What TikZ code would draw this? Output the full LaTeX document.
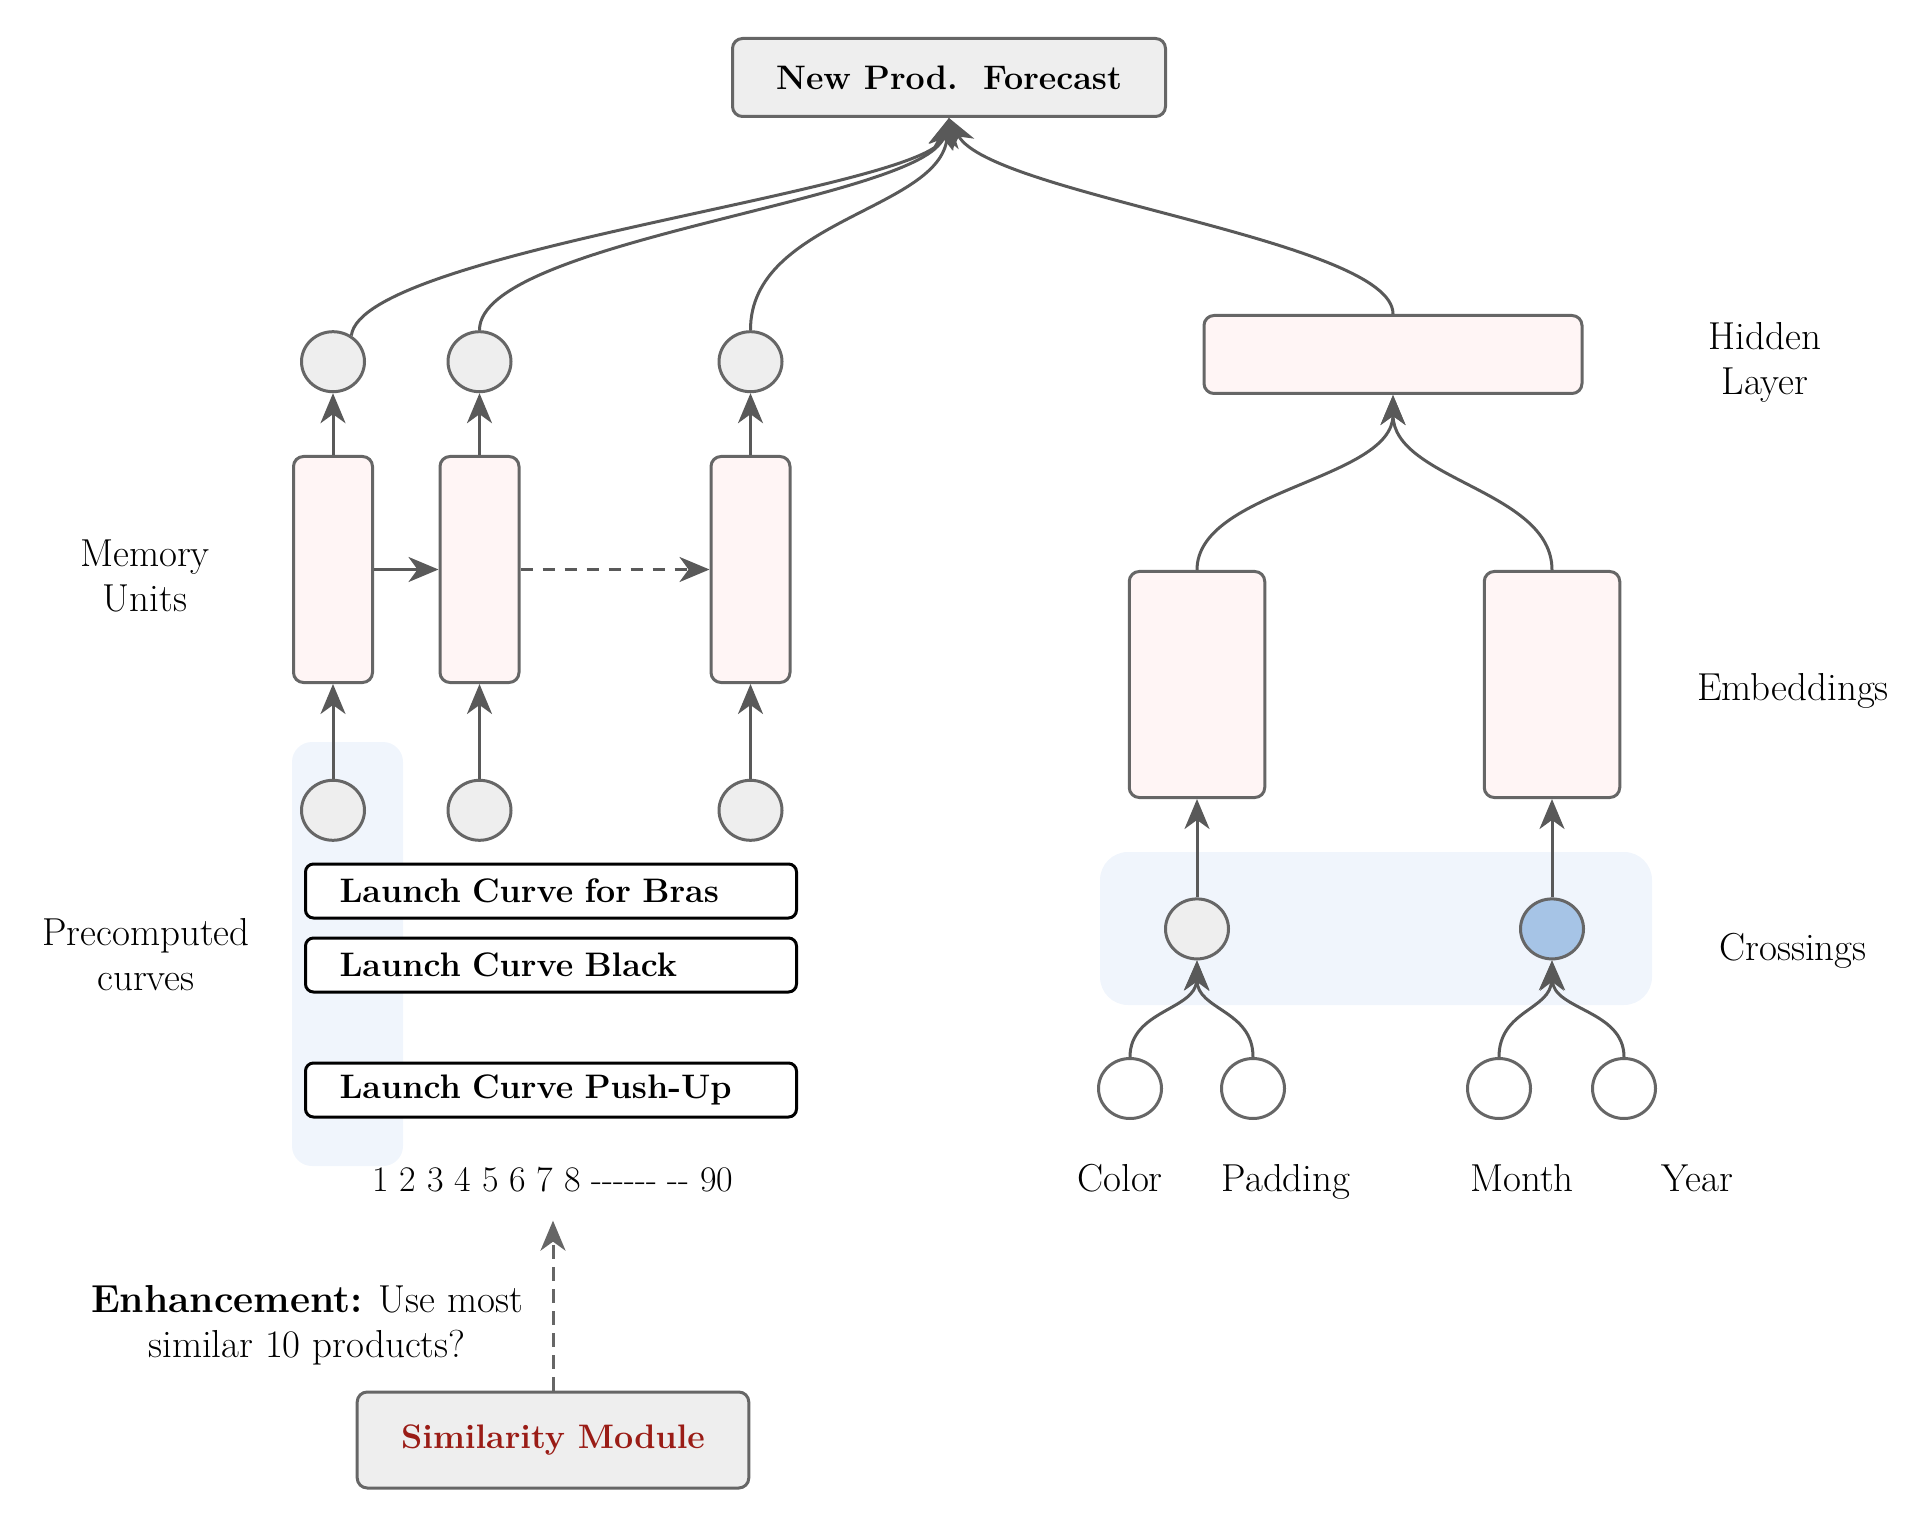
\documentclass[tikz,border=0pt]{standalone}
\usepackage{fontspec}
\usepackage{tikz}
\usetikzlibrary{positioning, shapes.geometric, arrows.meta}

\definecolor{linegray}{HTML}{666666}
\definecolor{arrgray}{HTML}{595959}
\definecolor{cellpink}{HTML}{FFF5F5}
\definecolor{unitgray}{HTML}{EEEEEE}
\definecolor{bgblue}{HTML}{F0F5FC}
\definecolor{crossblue}{HTML}{A6C4E6}
\definecolor{simred}{HTML}{9A1C16}

\newcommand{\hy}{-\kern0pt}

\begin{document}
\begin{tikzpicture}[x=0.5pt, y=-0.5pt,
	every node/.style={font=\fontsize{19.5}{22.5}\selectfont},
	cell/.style={draw=linegray, fill=cellpink, line width=1.5pt, rounded corners=5pt},
	mem/.style={cell, minimum width=39.5pt, minimum height=113pt},
	emb/.style={cell, minimum width=67.75pt, minimum height=113pt},
	neuron/.style={ellipse, draw=linegray, fill=unitgray, line width=1.5pt, minimum width=31.5pt, minimum height=30pt, inner sep=0pt},
	feat/.style={neuron, fill=white},
	lcbox/.style={draw=black, fill=white, line width=1.5pt, rounded corners=4pt, minimum height=27pt, text width=211.5pt, align=left, inner xsep=17pt, font=\bfseries\fontsize{17}{22.5}\selectfont},
	greybox/.style={draw=linegray, fill=unitgray, line width=1.5pt, rounded corners=5pt, font=\bfseries\fontsize{17}{22.5}\selectfont},
	lbl/.style={align=center},
	arr/.style={draw=arrgray, line width=1.5pt, -{Stealth[length=15pt, width=12.5pt, inset=4.5pt]}}
	]
	\useasboundingbox (0,0) rectangle (1922,1518);

	% shaded groups
	\fill[bgblue, rounded corners=10pt] (292,742) rectangle (403,1166);
	\fill[bgblue, rounded corners=14pt] (1100,852) rectangle (1652,1005);

	\node[greybox, minimum width=216.5pt, minimum height=39pt] (fc) at (949,77.5) {New Prod.\ \ Forecast};

	% memory units
	\node[mem] (m1) at (333,569.5) {};
	\node[mem] (m2) at (479.5,569.5) {};
	\node[mem] (m3) at (750.5,569.5) {};
	\node[neuron, above=30.9pt of m1] (o1) {};
	\node[neuron, above=30.9pt of m2] (o2) {};
	\node[neuron, above=30.9pt of m3] (o3) {};
	\node[neuron, below=47.4pt of m1] (i1) {};
	\node[neuron, below=47.4pt of m2] (i2) {};
	\node[neuron, below=47.4pt of m3] (i3) {};

	\node[lcbox] (lc1) at (551,891) {Launch Curve for Bras};
	\node[lcbox] (lc2) at (551,965) {Launch Curve Black};
	\node[lcbox] (lc3) at (551,1090) {Launch Curve Push-Up};

	\node[lbl] (memlbl) at (145,576) {Memory\\Units};
	\node[lbl] (prelbl) at (146,955) {Precomputed\\curves};
	\node[anchor=base, font=\fontsize{18}{22.5}\selectfont] (nums) at (553,1191.5) {1 2 3 4 5 6 7 8 \hy\hy\hy\hy\hy\hy{} \hy\hy{} 90};
	\node[lbl] (enh) at (307,1325) {\textbf{Enhancement:} Use most\\similar 10 products?};
	\node[greybox, text=simred, minimum width=195.8pt, minimum height=48pt] (sim) at (553,1440) {Similarity Module};

	% feature side
	\node[cell, minimum width=189pt, minimum height=39pt] (hid) at (1393,354.5) {};
	\node[emb] (e1) at (1197,684.5) {};
	\node[emb] (e2) at (1552,684.5) {};
	\node[neuron, below=49.2pt of e1] (x1) {};
	\node[neuron, fill=crossblue, below=49.2pt of e2] (x2) {};
	\node[feat] (fcol) at (1130,1088.5) {};
	\node[feat] (fpad) at (1253,1088.5) {};
	\node[feat] (fmon) at (1499,1088.5) {};
	\node[feat] (fyr) at (1624,1088.5) {};

	\node[lbl] (hidlbl) at (1765,362) {Hidden\\Layer};
	\node (emblbl) at (1793,691) {Embeddings};
	\node (crosslbl) at (1793,951) {Crossings};
	\node[anchor=base] (collbl) at (1120,1191.5) {Color};
	\node[anchor=base] (padlbl) at (1286,1191.5) {Padding};
	\node[anchor=base] (monlbl) at (1522,1191.5) {Month};
	\node[anchor=base] (yrlbl) at (1697,1191.5) {Year};

	% connections
	\draw[arr] (i1) -- (m1);
	\draw[arr] (i2) -- (m2);
	\draw[arr] (i3) -- (m3);
	\draw[arr] (m1) -- (o1);
	\draw[arr] (m2) -- (o2);
	\draw[arr] (m3) -- (o3);
	\draw[arr] (m1) -- (m2);
	\draw[arr, dash pattern=on 6pt off 5pt] (m2) -- (m3);

	\draw[arr] (o1.55) .. controls (362,250) and (930,190) .. (fc.south);
	\draw[arr] (o2.north) .. controls (479,240) and (925,200) .. (fc.south);
	\draw[arr] (o3.north) .. controls (750,220) and (940,210) .. (fc.south);
	\draw[arr] (hid.north) .. controls (1393,240) and (990,195) .. (fc.south);

	\draw[arr] (e1.north) .. controls (1197,490) and (1393,480) .. (hid.south);
	\draw[arr] (e2.north) .. controls (1552,490) and (1393,480) .. (hid.south);
	\draw[arr] (x1) -- (e1);
	\draw[arr] (x2) -- (e2);
	\draw[arr] (fcol.north) .. controls (1130,1010) and (1196,1010) .. (x1.south);
	\draw[arr] (fpad.north) .. controls (1253,1010) and (1197,1010) .. (x1.south);
	\draw[arr] (fmon.north) .. controls (1499,1010) and (1551,1010) .. (x2.south);
	\draw[arr] (fyr.north) .. controls (1624,1010) and (1553,1010) .. (x2.south);

	\draw[arr, draw=linegray, dash pattern=on 7pt off 4pt, shorten >=10.75pt] (sim) -- (nums);
\end{tikzpicture}
\end{document}
